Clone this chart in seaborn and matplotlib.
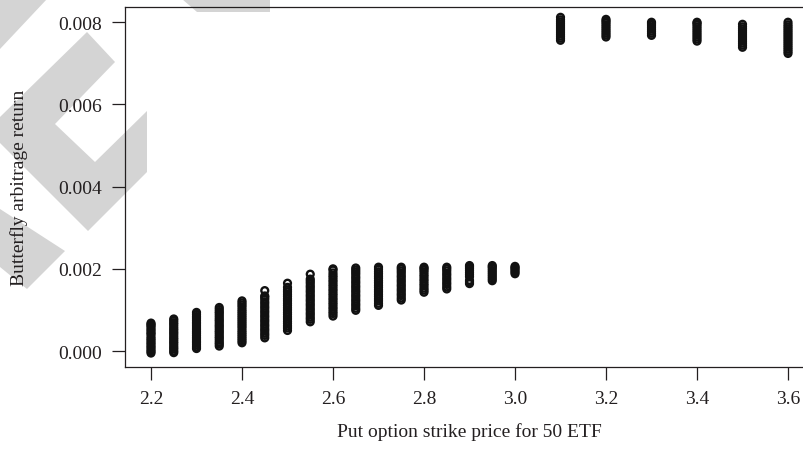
import numpy as np
import pandas as pd
import matplotlib
matplotlib.use("Agg")
import matplotlib.pyplot as plt
from matplotlib.patches import Polygon
import seaborn as sns

# strikes and butterfly returns (returns in units of 1e-4)
low_strikes = [2.2, 2.25, 2.3, 2.35, 2.4, 2.45, 2.5, 2.55, 2.6, 2.65, 2.7, 2.75, 2.8, 2.85, 2.9, 2.95, 3.0]
low_returns = [
    [-0.5, -0.1, 0.3, 0.8, 1.2, 1.7, 2.1, 2.6, 3.0, 3.5, 4.1, 4.4, 4.9, 5.3, 5.8, 6.2, 6.5, 6.8],
    [-0.4, 0.0, 0.5, 0.9, 1.4, 1.9, 2.3, 2.8, 3.2, 3.7, 4.2, 4.6, 5.1, 5.5, 6.0, 6.5, 6.9, 7.4, 7.8],
    [0.6, 1.0, 1.5, 2.0, 2.4, 2.9, 3.3, 3.8, 4.3, 4.7, 5.2, 5.6, 6.1, 6.6, 7.0, 7.5, 8.0, 8.4, 8.9, 9.4],
    [1.2, 1.7, 2.1, 2.6, 3.1, 3.5, 4.0, 4.5, 4.9, 5.4, 5.9, 6.3, 6.8, 7.3, 7.7, 8.2, 8.7, 9.2, 9.6, 10.1, 10.6],
    [2.0, 2.5, 3.0, 3.5, 4.0, 4.5, 5.0, 5.6, 6.1, 6.6, 7.1, 7.6, 8.1, 8.6, 9.1, 9.6, 10.1, 10.7, 11.2, 11.7, 12.2],
    [3.2, 3.8, 4.3, 4.9, 5.4, 6.0, 6.5, 7.1, 7.6, 8.2, 8.7, 9.3, 9.8, 10.4, 10.9, 11.5, 12.0, 12.6, 13.1, 13.4, 14.7],
    [5.0, 5.6, 6.1, 6.7, 7.2, 7.8, 8.3, 8.9, 9.4, 10.0, 10.5, 11.1, 11.6, 12.2, 12.7, 13.3, 13.8, 14.4, 14.9, 15.5, 16.5],
    [7.1, 7.7, 8.2, 8.8, 9.3, 9.9, 10.4, 11.0, 11.5, 12.1, 12.6, 13.2, 13.7, 14.3, 14.8, 15.4, 15.9, 16.5, 17.0, 17.5, 18.7],
    [8.5, 9.1, 9.6, 10.2, 10.7, 11.3, 11.8, 12.4, 12.9, 13.5, 14.0, 14.6, 15.1, 15.7, 16.2, 16.8, 17.3, 17.9, 18.4, 19.0, 19.7, 20.0],
    [9.9, 10.4, 11.0, 11.5, 12.1, 12.6, 13.2, 13.7, 14.3, 14.8, 15.4, 15.9, 16.5, 17.0, 17.6, 18.1, 18.7, 19.2, 19.7, 20.2],
    [11.1, 11.6, 12.2, 12.7, 13.3, 13.8, 14.4, 14.9, 15.5, 16.0, 16.6, 17.1, 17.7, 18.2, 18.8, 19.3, 19.9, 20.4],
    [12.4, 12.9, 13.5, 14.0, 14.6, 15.1, 15.7, 16.2, 16.8, 17.3, 17.9, 18.4, 19.0, 19.5, 20.0, 20.4],
    [14.3, 14.8, 15.3, 15.9, 16.4, 17.0, 17.5, 18.1, 18.6, 19.2, 19.7, 20.1, 20.4],
    [15.1, 15.6, 16.2, 16.7, 17.3, 17.8, 18.4, 18.9, 19.5, 20.0, 20.4],
    [16.4, 16.8, 17.2, 18.1, 18.6, 19.1, 19.6, 20.1, 20.5, 20.8],
    [17.1, 17.6, 18.1, 18.6, 19.1, 19.6, 20.1, 20.5, 20.8],
    [18.8, 19.2, 19.6, 20.0, 20.3, 20.6],
]
high_strikes = [3.1, 3.2, 3.3, 3.4, 3.5, 3.6]
high_returns = [
    [75.6, 76.1, 76.6, 77.1, 77.6, 78.1, 78.6, 79.1, 79.6, 80.1, 80.6, 81.2],
    [76.4, 76.9, 77.4, 77.9, 78.4, 78.9, 79.4, 79.9, 80.3, 80.7],
    [76.8, 77.3, 77.8, 78.3, 78.8, 79.3, 79.7, 80.0],
    [75.4, 75.9, 76.4, 76.9, 77.4, 77.9, 78.4, 78.9, 79.4, 79.8, 80.0],
    [73.9, 74.4, 74.9, 75.4, 75.9, 76.4, 76.9, 77.4, 77.9, 78.4, 78.9, 79.5],
    [72.4, 72.9, 73.4, 73.9, 74.4, 74.9, 75.4, 75.9, 76.4, 76.9, 77.4, 77.9, 78.4, 78.9, 79.4, 80.0],
]

x_ticks = [2.2, 2.4, 2.6, 2.8, 3.0, 3.2, 3.4, 3.6]
y_ticks = [0.000, 0.002, 0.004, 0.006, 0.008]

rows = []
for k, vals in zip(low_strikes + high_strikes, low_returns + high_returns):
    for v in vals:
        rows.append((k, v * 1e-4))
df = pd.DataFrame(rows, columns=["strike", "ret"])

sns.set_style("ticks")
plt.rcParams["font.family"] = ["Liberation Serif", "DejaVu Serif"]
ink = "#231f20"

fig = plt.figure(figsize=(8.04, 4.56), dpi=100)
fig.patch.set_facecolor("white")

# grey watermark bands behind the plot (pixel coords of the picture)
W, H = 804, 456
bands = [
    [(0, 0), (47, 0), (0, 50)],
    [(87, 33), (115, 63), (55, 125), (95, 163), (147, 112), (147, 173), (88, 232), (0, 144), (0, 118)],
    [(0, 210), (65, 252), (27, 290), (0, 268)],
    [(182, 0), (270, 0), (270, 13), (197, 13)],
]
for b in bands:
    pts = [(x / W, 1 - y / H) for x, y in b]
    fig.add_artist(Polygon(pts, closed=True, transform=fig.transFigure,
                           facecolor="#d4d4d4", edgecolor="none", zorder=-1))

ax = fig.add_axes([0.1551, 0.1936, 0.8567, 0.789])
ax.set_facecolor("none")

sns.scatterplot(data=df, x="strike", y="ret", ax=ax, marker="o", s=24,
                facecolor="none", edgecolor="#111111", linewidth=1.7, legend=False)

ax.set_xlim(2.1422, 3.656)
ax.set_ylim(-0.000382, 0.008372)
ax.set_xticks(x_ticks)
ax.set_xticklabels([f"{t:.1f}" for t in x_ticks])
ax.set_yticks(y_ticks)
ax.set_yticklabels([f"{t:.3f}" for t in y_ticks])

for side in ["left", "bottom", "top"]:
    ax.spines[side].set_color(ink)
    ax.spines[side].set_linewidth(0.9)
ax.spines["right"].set_visible(False)

ax.tick_params(direction="out", length=9.5, width=0.9, pad=7, labelsize=14,
               colors=ink, labelcolor=ink)

ax.set_xlabel("Put option strike price for 50 ETF", fontsize=14, color=ink)
ax.set_ylabel("Butterfly arbitrage return", fontsize=14, color=ink)
ax.xaxis.set_label_coords(0.5, -0.155)
ax.yaxis.set_label_coords(-0.140, 0.5)

fig.savefig("out.png", dpi=100)
